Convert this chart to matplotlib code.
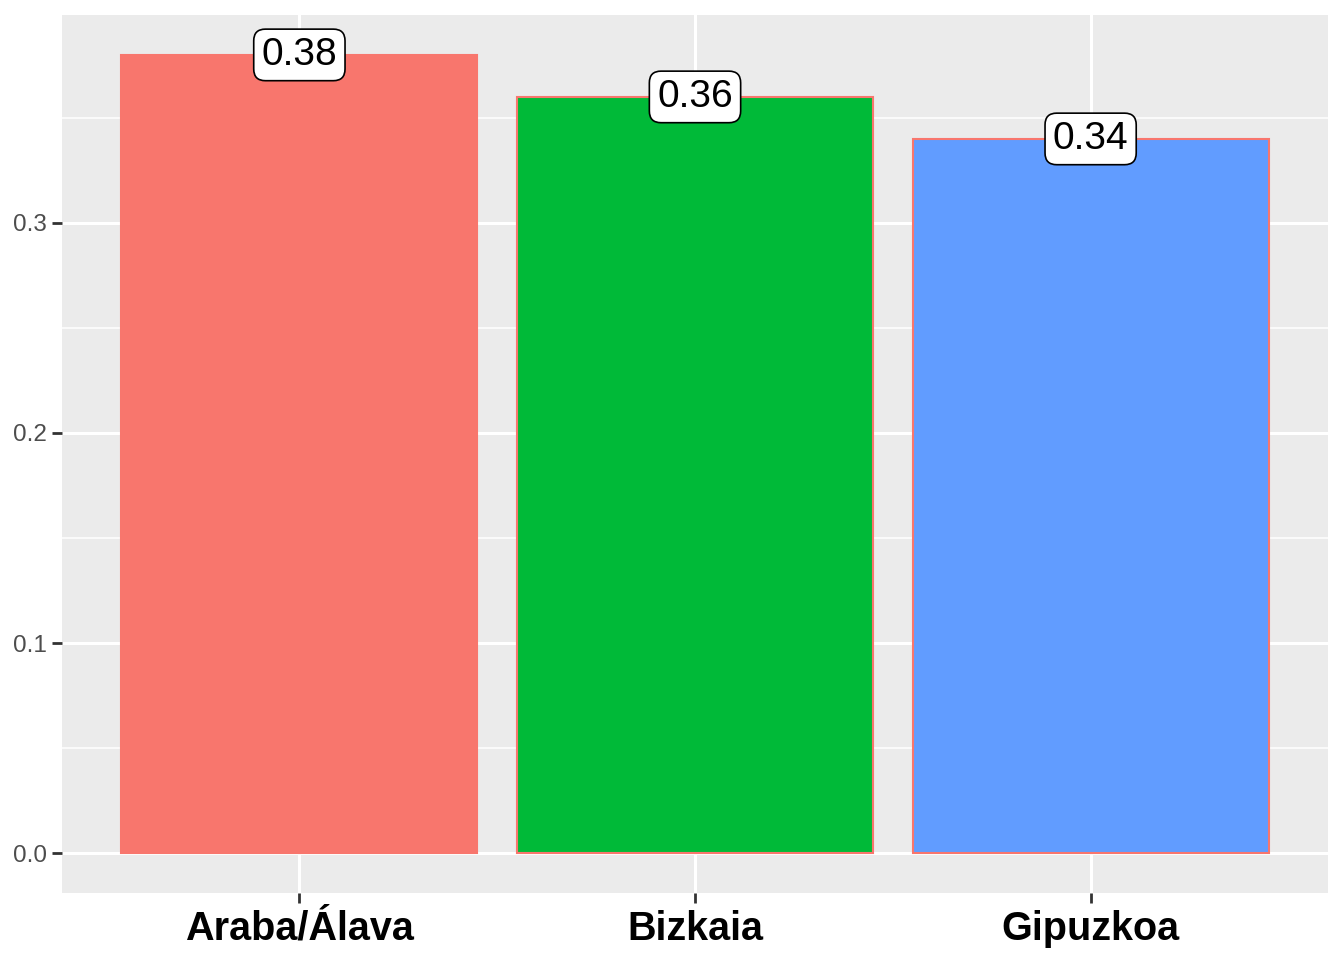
import matplotlib
matplotlib.use("Agg")
import matplotlib.pyplot as plt
import numpy as np

plt.rcParams['font.family'] = ['Liberation Sans', 'DejaVu Sans']

# data
provinces = ["Araba/Álava", "Bizkaia", "Gipuzkoa"]
values = [0.38, 0.36, 0.34]
fill_colors = ["#F8766D", "#00BA38", "#619CFF"]

fig = plt.figure(figsize=(13.44, 9.6), dpi=100)
ax = fig.add_axes([62/1344, 1-893/960, (1328-62)/1344, (893-15)/960])
ax.set_facecolor("#EBEBEB")

x = np.arange(1, len(provinces) + 1)
ax.bar(x, values, width=0.9, color=fill_colors, edgecolor="#F8766D", linewidth=1.5, zorder=3)

# value labels (like geom_label)
for xi, v in zip(x, values):
    ax.text(xi, v, f"{v:.2f}", ha="center", va="center", fontsize=28, zorder=5,
            bbox=dict(boxstyle="round,pad=0.2,rounding_size=0.3", fc="white", ec="black", lw=1.2))

ax.set_xlim(0.4, 3.6)
ax.set_ylim(-0.019, 0.399)

ax.set_yticks([0.0, 0.1, 0.2, 0.3])
ax.set_yticklabels(["0.0", "0.1", "0.2", "0.3"])
ax.set_yticks([0.05, 0.15, 0.25, 0.35], minor=True)
ax.set_xticks(x)
ax.set_xticklabels(provinces, fontsize=28.5, fontweight="bold")

ax.grid(which="major", color="white", linewidth=2.2, zorder=0)
ax.grid(which="minor", axis="y", color="white", linewidth=1.1, zorder=0)
ax.set_axisbelow(True)

ax.tick_params(axis="y", which="major", labelsize=17.5, labelcolor="#4D4D4D", color="#333333",
               length=7, width=2, pad=4)
ax.tick_params(axis="y", which="minor", length=0)
ax.tick_params(axis="x", which="major", labelcolor="black", color="#333333", length=7, width=2, pad=5)

for s in ax.spines.values():
    s.set_visible(False)

fig.savefig("out.png", dpi=100)
